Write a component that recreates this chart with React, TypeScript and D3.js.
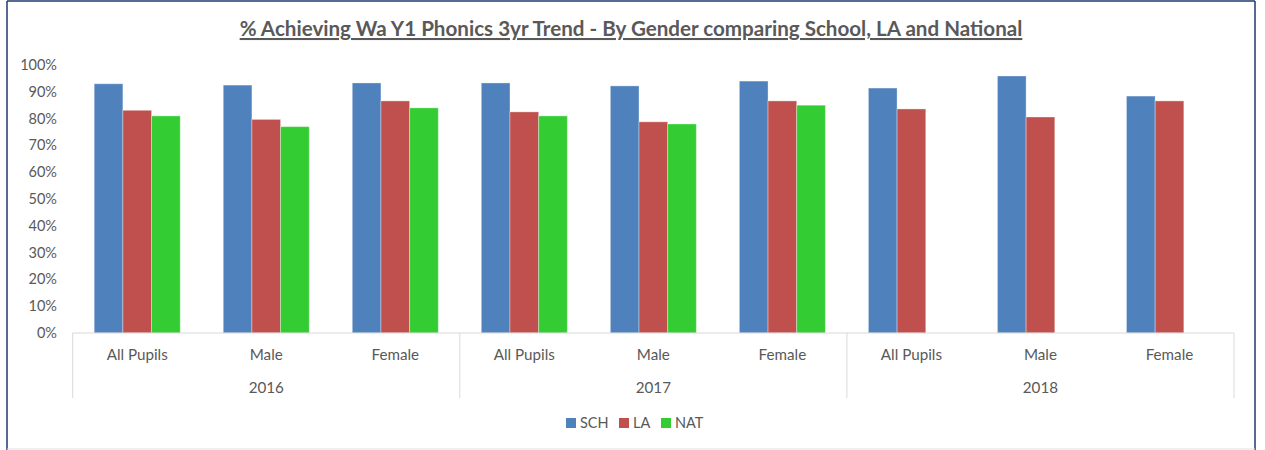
import React from "react";
import * as d3 from "d3";

// chart data
const years = ["2016", "2017", "2018"];
const groups = ["All Pupils", "Male", "Female"];
const series = ["SCH", "LA", "NAT"];
const schValues = [0.93, 0.925, 0.933, 0.933, 0.922, 0.94, 0.914, 0.959, 0.884];
const laValues = [0.831, 0.797, 0.866, 0.825, 0.788, 0.866, 0.836, 0.806, 0.866];
const natValues = [0.81, 0.77, 0.84, 0.81, 0.78, 0.85, null, null, null];
const yTicks = [0, 0.1, 0.2, 0.3, 0.4, 0.5, 0.6, 0.7, 0.8, 0.9, 1];

const colors = { SCH: "#4F81BD", LA: "#C0504D", NAT: "#33CC33" };
const font = "Lato, 'Open Sans', sans-serif";
const textColor = "#595959";
const axisColor = "#D9D9D9";

const width = 1265;
const height = 450;
const margin = { left: 72.7, right: 1234, top: 65, bottom: 333 };

const App = () => {
  const categories = years.flatMap((yr) => groups.map((g) => `${yr}|${g}`));
  const valuesBySeries = { SCH: schValues, LA: laValues, NAT: natValues };

  const x0 = d3.scaleBand().domain(categories).range([margin.left, margin.right]).padding(0);
  const bw = x0.bandwidth();
  const x1 = d3.scaleBand().domain(series).range([bw / 6, (bw * 5) / 6]).padding(0);
  const y = d3.scaleLinear().domain([0, 1]).range([margin.bottom, margin.top]);
  const fmt = d3.format(".0%");

  const yearWidth = bw * groups.length;

  return (
    <div style={{ position: "absolute", left: 0, top: 0 }}>
      <svg width={width} height={height} style={{ display: "block" }}>
        <rect x={0} y={0} width={width} height={height} fill="#fff" />
        {/* chart border */}
        <line x1={7} y1={1} x2={1255} y2={1} stroke="#1F3A6E" strokeWidth={1.5} />
        <line x1={7} y1={1} x2={7} y2={height} stroke="#1F3A6E" strokeWidth={1.5} />
        <line x1={1255} y1={1} x2={1255} y2={height} stroke="#1F3A6E" strokeWidth={1.5} />
        <line x1={7} y1={449} x2={1255} y2={449} stroke="#E0E0E0" strokeWidth={1} />

        {/* title */}
        <text
          x={631}
          y={36}
          textAnchor="middle"
          fontFamily={font}
          fontWeight="bold"
          fontSize={20.6}
          fill={textColor}
          textDecoration="underline"
        >
          % Achieving Wa Y1 Phonics 3yr Trend - By Gender comparing School, LA and National
        </text>

        {/* y axis labels */}
        {yTicks.map((t) => (
          <text
            key={t}
            x={57}
            y={y(t)}
            dy="0.35em"
            textAnchor="end"
            fontFamily={font}
            fontSize={14.5}
            fill={textColor}
          >
            {fmt(t)}
          </text>
        ))}

        {/* bars */}
        {categories.map((c, i) => (
          <g key={c} transform={`translate(${x0(c)},0)`}>
            {series.map((s) => {
              const v = valuesBySeries[s][i];
              if (v == null) return null;
              return (
                <rect
                  key={s}
                  x={x1(s)}
                  y={y(v)}
                  width={x1.bandwidth()}
                  height={y(0) - y(v)}
                  fill={colors[s]}
                  stroke="#fff"
                  strokeOpacity={0.35}
                  strokeWidth={1}
                />
              );
            })}
          </g>
        ))}

        {/* category axis */}
        <line x1={margin.left} y1={y(0)} x2={margin.right} y2={y(0)} stroke={axisColor} />
        {d3.range(years.length + 1).map((k) => {
          const xx = margin.left + k * yearWidth;
          return <line key={k} x1={xx} y1={y(0)} x2={xx} y2={398} stroke={axisColor} />;
        })}
        {categories.map((c) => (
          <text
            key={c}
            x={x0(c) + bw / 2}
            y={360}
            textAnchor="middle"
            fontFamily={font}
            fontSize={15.2}
            fill={textColor}
          >
            {c.split("|")[1]}
          </text>
        ))}
        {years.map((yr, k) => (
          <text
            key={yr}
            x={margin.left + k * yearWidth + yearWidth / 2}
            y={393}
            textAnchor="middle"
            fontFamily={font}
            fontSize={15.2}
            fill={textColor}
          >
            {yr}
          </text>
        ))}

        {/* legend */}
        {series.map((s, k) => {
          const lx = [566, 619, 661][k];
          return (
            <g key={s} transform={`translate(${lx},418)`}>
              <rect width={10} height={10} fill={colors[s]} />
              <text x={14} y={10} fontFamily={font} fontSize={14.5} fill={textColor}>
                {s}
              </text>
            </g>
          );
        })}
      </svg>
    </div>
  );
};

export default App;
